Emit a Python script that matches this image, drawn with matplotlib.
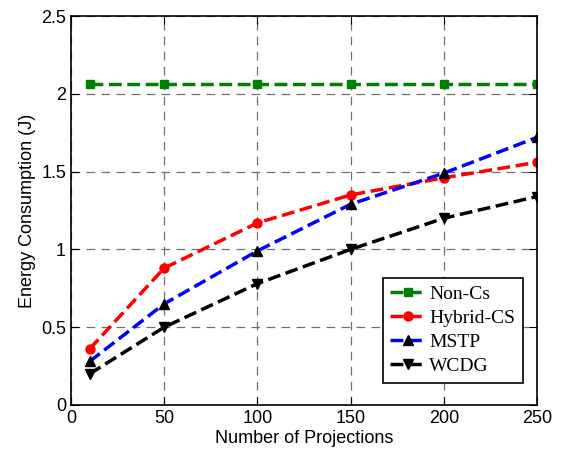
import matplotlib.pyplot as plt

x = [10, 50, 100, 150, 200, 250]
non_cs = [2.06, 2.06, 2.06, 2.06, 2.06, 2.06]
hybrid_cs = [0.36, 0.88, 1.17, 1.35, 1.46, 1.56]
mstp = [0.28, 0.65, 0.99, 1.29, 1.49, 1.72]
wcdg = [0.20, 0.50, 0.78, 1.00, 1.20, 1.34]

plt.rcParams['font.family'] = ['Liberation Sans', 'DejaVu Sans']

fig = plt.figure(figsize=(5.62, 4.51), dpi=100)
ax = fig.add_axes([0.1263, 0.102, 0.8292, 0.8625])

ax.plot(x, non_cs, '--s', color='#008000', lw=2.5, ms=6, mfc='#008000', mec='#008000', label='Non-Cs')
ax.plot(x, hybrid_cs, '--o', color='red', lw=2.5, ms=6.5, mfc='red', mec='red', label='Hybrid-CS')
ax.plot(x, mstp, '--^', color='blue', lw=2.5, ms=7.5, mfc='black', mec='black', label='MSTP')
ax.plot(x, wcdg, '--v', color='black', lw=2.5, ms=7.5, mfc='black', mec='black', label='WCDG')

ax.set_xlim(0, 250)
ax.set_ylim(0, 2.5)
ax.set_xticks([0, 50, 100, 150, 200, 250])
ax.set_yticks([0, 0.5, 1, 1.5, 2, 2.5])
ax.set_yticklabels(['0', '0.5', '1', '1.5', '2', '2.5'])
ax.tick_params(direction='in', top=True, right=True, labelsize=13, length=6)
ax.grid(True, color='#707070', linestyle=(0, (7, 5)), linewidth=0.9)
for s in ax.spines.values():
    s.set_linewidth(1.2)

ax.set_xlabel('Number of Projections', fontsize=13, labelpad=2)
ax.set_ylabel('Energy Consumption (J)', fontsize=13)

leg = ax.legend(loc='lower right', bbox_to_anchor=(0.97, 0.057), fancybox=False, edgecolor='black',
                prop={'family': 'Liberation Serif', 'size': 14}, handlelength=1.8,
                handletextpad=0.2, borderpad=0.4, labelspacing=0.33, borderaxespad=0,
                framealpha=1)
leg.get_frame().set_linewidth(1.2)

fig.savefig('out.png', dpi=100)
